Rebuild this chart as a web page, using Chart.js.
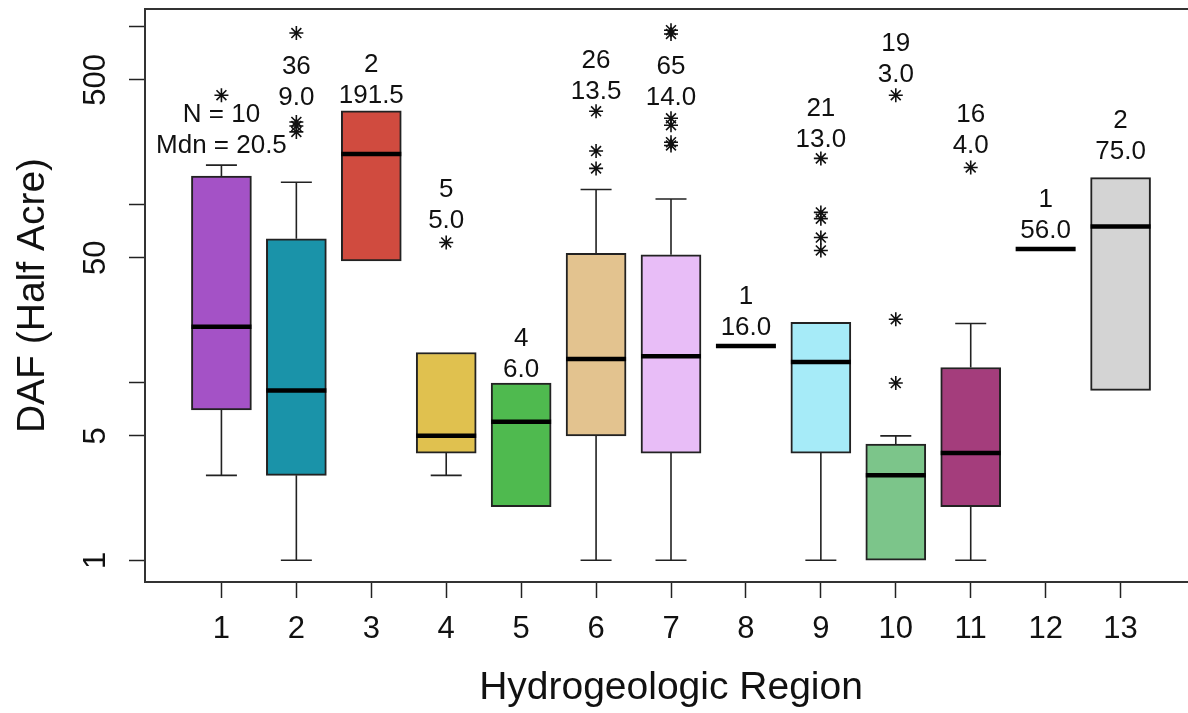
<!DOCTYPE html>
<html lang="en">
<head>
  <meta charset="UTF-8" />
  <title>DAF by Hydrogeologic Region</title>
  <script src="https://cdn.jsdelivr.net/npm/chart.js"></script>
  <style>
    html, body {
      margin: 0;
      padding: 0;
      background: #fff;
      overflow: hidden;
    }

    /* plot frame runs past the right edge, like the original figure */
    #wrap {
      width: 1188px;
      height: 713px;
      overflow: hidden;
    }

    canvas {
      display: block;
    }
  </style>
</head>
<body>
  <div id="wrap">
    <canvas id="dafChart" width="1210" height="713"></canvas>
  </div>

  <script>
    // Data (DAF values, log scale)
    const regions = [1, 2, 3, 4, 5, 6, 7, 8, 9, 10, 11, 12, 13];
    const nObs = [10, 36, 2, 5, 4, 26, 65, 1, 21, 19, 16, 1, 2];
    const whiskerLow = [3, 1, 48, 3, 2, 1, 1, 16, 1, 1, 1, 56, 9];
    const q1 = [7, 3, 48, 4, 2, 5, 4, 16, 4, 1, 2, 56, 9];
    const medians = [20.5, 9.0, 191.5, 5.0, 6.0, 13.5, 14.0, 16.0, 13.0, 3.0, 4.0, 56.0, 75.0];
    const q3 = [144, 64, 335, 14.7, 9.9, 53, 52, 16, 21.7, 4.5, 12.1, 56, 141];
    const whiskerHigh = [166, 133, 335, 14.7, 9.9, 121, 107, 16, 21.7, 5, 21.4, 56, 141];
    const outliers = [
      [410],
      [916, 290, 275, 255],
      [],
      [61],
      [],
      [333, 199, 159],
      [950, 905, 304, 278, 223, 214],
      [],
      [181, 90, 83, 65, 55],
      [410, 22.6, 9.9],
      [161],
      [],
      []
    ];
    const yTicks = [1, 5, 10, 50, 100, 500, 1000];
    const yTickLabels = [1, 5, 50, 500];

    // where the "N / median" note sits for each region (DAF units)
    const noteAt = [214, 394, 404, 81, 11.8, 426, 394, 20.1, 229, 531, 214, 70.5, 196];

    const boxColors = [
      '#a452c6', '#1a93a9', '#d04b3f', '#e0c14f', '#4fba4f', '#e3c38f', '#e8bdf7',
      null, '#a6ebf8', '#7cc58a', '#a43d7c', null, '#d4d4d4'
    ];

    const FONT = '"Liberation Sans", Arial, sans-serif';
    const INK = '#111';
    const LINE = '#222';

    // boxes only where there is a spread
    const boxData = [];
    const boxFill = [];
    regions.forEach((r, i) => {
      if (q3[i] > q1[i]) {
        boxData.push({ x: r, y: [q1[i], q3[i]] });
        boxFill.push(boxColors[i]);
      }
    });

    const outlierPoints = [];
    outliers.forEach((vals, i) => {
      vals.forEach(v => outlierPoints.push({ x: regions[i], y: v }));
    });

    // whiskers, medians, notes and frame
    const boxPlotParts = {
      id: 'boxPlotParts',
      beforeDatasetsDraw(chart) {
        const { ctx, scales: { x, y } } = chart;
        ctx.save();
        ctx.strokeStyle = LINE;
        ctx.lineWidth = 1.6;
        regions.forEach((r, i) => {
          const px = x.getPixelForValue(r);
          [[whiskerLow[i], q1[i]], [whiskerHigh[i], q3[i]]].forEach(([w, b]) => {
            if (w === b) return;
            const wy = y.getPixelForValue(w);
            const by = y.getPixelForValue(b);
            ctx.beginPath();
            ctx.moveTo(px, by);
            ctx.lineTo(px, wy);
            ctx.moveTo(px - 15.5, wy);
            ctx.lineTo(px + 15.5, wy);
            ctx.stroke();
          });
        });
        ctx.restore();
      },
      afterDatasetsDraw(chart) {
        const { ctx, scales: { x, y } } = chart;
        ctx.save();
        ctx.strokeStyle = '#000';
        ctx.lineWidth = 4.5;
        regions.forEach((r, i) => {
          const px = x.getPixelForValue(r);
          const my = y.getPixelForValue(medians[i]);
          ctx.beginPath();
          ctx.moveTo(px - 30, my);
          ctx.lineTo(px + 30, my);
          ctx.stroke();
        });

        ctx.fillStyle = INK;
        ctx.font = '26px ' + FONT;
        ctx.textAlign = 'center';
        ctx.textBaseline = 'middle';
        regions.forEach((r, i) => {
          const px = x.getPixelForValue(r);
          const ty = y.getPixelForValue(noteAt[i]);
          const nText = i === 0 ? 'N = ' + nObs[i] : String(nObs[i]);
          const mText = (i === 0 ? 'Mdn = ' : '') + medians[i].toFixed(1);
          ctx.fillText(nText, px, ty - 31);
          ctx.fillText(mText, px, ty);
        });
        ctx.restore();
      },
      afterDraw(chart) {
        const { ctx, chartArea: a } = chart;
        ctx.save();
        ctx.strokeStyle = '#333';
        ctx.lineWidth = 2;
        ctx.strokeRect(a.left, a.top, a.right - a.left, a.bottom - a.top);
        ctx.restore();
      }
    };

    const tickGrid = {
      offset: false,
      drawOnChartArea: false,
      drawTicks: true,
      tickLength: 16,
      tickColor: LINE,
      tickWidth: 1.5
    };

    const ctx = document.getElementById('dafChart').getContext('2d');
    const dafChart = new Chart(ctx, {
      type: 'bar',
      data: {
        datasets: [
          {
            type: 'bar',
            data: boxData,
            backgroundColor: boxFill,
            borderColor: LINE,
            borderWidth: 2,
            borderSkipped: false,
            barThickness: 60
          },
          {
            type: 'scatter',
            data: outlierPoints,
            pointStyle: 'star',
            radius: 7,
            borderColor: INK,
            borderWidth: 1.6,
            backgroundColor: 'transparent'
          }
        ]
      },
      options: {
        responsive: false,
        devicePixelRatio: 1,
        animation: false,
        layout: { padding: { top: 9, right: 13, left: 0, bottom: 0 } },
        plugins: {
          legend: { display: false },
          tooltip: { enabled: false }
        },
        scales: {
          x: {
            type: 'linear',
            offset: false,
            bounds: 'data',
            min: -0.02,
            max: 14.02,
            afterBuildTicks: s => { s.ticks = regions.map(v => ({ value: v })); },
            afterFit: s => {
              s.height = 131;
              s.paddingLeft = 0;
              s.paddingRight = 0;
            },
            grid: tickGrid,
            border: { display: false },
            ticks: {
              autoSkip: false,
              maxRotation: 0,
              padding: 13,
              color: INK,
              font: { family: FONT, size: 31 },
              callback: v => String(v)
            },
            title: {
              display: true,
              text: 'Hydrogeologic Region',
              color: INK,
              font: { family: FONT, size: 39 },
              padding: { top: 0, bottom: 1 }
            }
          },
          y: {
            type: 'logarithmic',
            bounds: 'data',
            min: 0.755,
            max: 1250,
            afterBuildTicks: s => { s.ticks = yTicks.map(v => ({ value: v })); },
            afterFit: s => {
              s.width = 145;
              s.paddingTop = 0;
              s.paddingBottom = 0;
            },
            grid: tickGrid,
            border: { display: false },
            ticks: {
              autoSkip: false,
              minRotation: 90,
              maxRotation: 90,
              crossAlign: 'center',
              padding: 7,
              color: INK,
              font: { family: FONT, size: 31 },
              callback: v => yTickLabels.includes(v) ? String(v) : ''
            },
            title: {
              display: true,
              text: 'DAF (Half Acre)',
              color: INK,
              font: { family: FONT, size: 39 },
              padding: { top: 10, bottom: 0 }
            }
          }
        }
      },
      plugins: [boxPlotParts]
    });
  </script>
</body>
</html>
